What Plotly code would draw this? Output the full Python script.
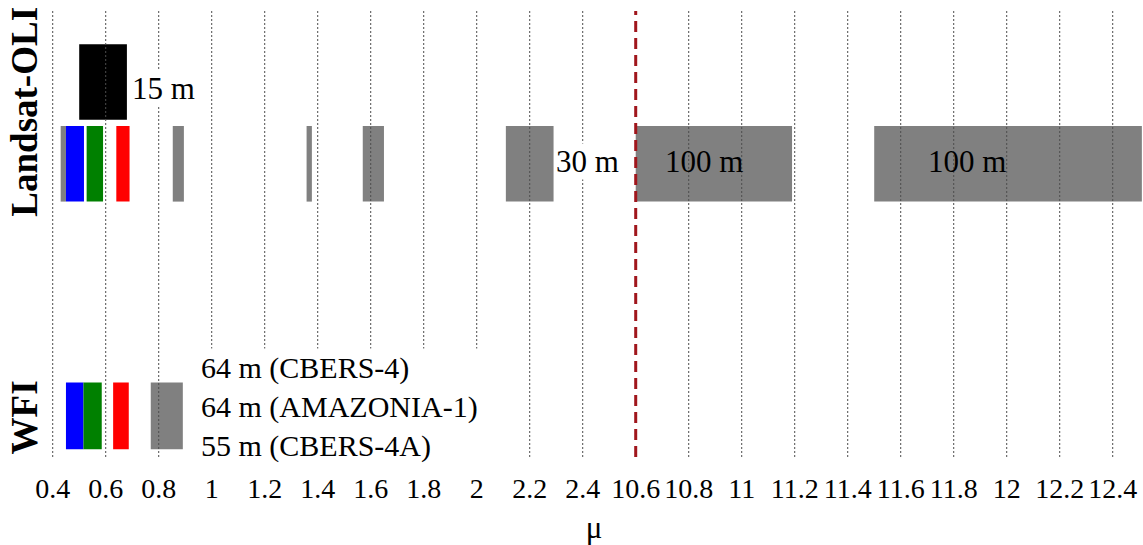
import plotly.graph_objects as go

# ---------------- data ----------------
# axis break: wavelengths >= 10.6 are drawn shifted left by this amount
BREAK_AT = 2.4
BREAK_SHIFT = 8.0

tick_values = [0.4, 0.6, 0.8, 1.0, 1.2, 1.4, 1.6, 1.8, 2.0, 2.2, 2.4,
               10.6, 10.8, 11.0, 11.2, 11.4, 11.6, 11.8, 12.0, 12.2, 12.4]
tick_labels = ["0.4", "0.6", "0.8", "1", "1.2", "1.4", "1.6", "1.8", "2", "2.2", "2.4",
               "10.6", "10.8", "11", "11.2", "11.4", "11.6", "11.8", "12", "12.2", "12.4"]

oli_start = [0.43, 0.45, 0.528, 0.64, 0.853, 1.358, 1.57, 2.11, 10.60, 11.50]
oli_end   = [0.45, 0.518, 0.59, 0.69, 0.895, 1.378, 1.65, 2.29, 11.19, 12.51]
oli_color = ["#808080", "#0000FF", "#008000", "#FF0000", "#808080",
             "#808080", "#808080", "#808080", "#808080", "#808080"]

pan_start = [0.50]
pan_end = [0.68]
pan_color = ["#000000"]

wfi_start = [0.45, 0.516, 0.628, 0.77]
wfi_end   = [0.516, 0.585, 0.687, 0.891]
wfi_color = ["#0000FF", "#008000", "#FF0000", "#808080"]

row_labels = ["WFI", "Landsat-OLI"]
row_label_y = [-0.028, 1.184]
row_y = {"WFI": 0.0, "OLI": 1.0, "PAN": 1.3245}
row_h = {"WFI": 0.265, "OLI": 0.30, "PAN": 0.30}

res_texts = ["15 m", "30 m", "100 m", "100 m"]
res_x = [0.695, 2.297, 10.707, 11.698]
res_y = [1.30, 1.01, 1.01, 1.01]
res_bg = ["white", "white", None, None]

wfi_texts = ["64 m (CBERS-4)", "64 m (AMAZONIA-1)", "55 m (CBERS-4A)"]
wfi_text_x = 0.95
wfi_text_y = 0.035


def m(x):
    return x if x <= BREAK_AT + 1e-9 else x - BREAK_SHIFT


FONT = "Liberation Serif, Times New Roman, serif"

fig = go.Figure()


def add_row(starts, ends, colors, key):
    fig.add_trace(go.Bar(
        orientation="h",
        y=[row_y[key]] * len(starts),
        base=[m(s) for s in starts],
        x=[m(e) - m(s) for s, e in zip(starts, ends)],
        width=[row_h[key]] * len(starts),
        marker=dict(color=colors, line=dict(width=0)),
        hoverinfo="skip",
        showlegend=False,
    ))


add_row(oli_start, oli_end, oli_color, "OLI")
add_row(pan_start, pan_end, pan_color, "PAN")
add_row(wfi_start, wfi_end, wfi_color, "WFI")

# dotted grid lines drawn above the bars (as in the reference)
for tv in tick_values:
    if abs(tv - 10.6) < 1e-9:
        continue
    fig.add_shape(type="line", xref="x", yref="paper", x0=m(tv), x1=m(tv), y0=0, y1=1,
                  line=dict(color="#4d4d4d", width=1, dash="2px,2px"), layer="above")

# red dashed break line
fig.add_shape(type="line", xref="x", yref="paper", x0=m(10.6), x1=m(10.6), y0=0, y1=1,
              line=dict(color="#A0161C", width=3, dash="11px,6px"), layer="above")

for t, x, y, bg in zip(res_texts, res_x, res_y, res_bg):
    fig.add_annotation(text=t, x=m(x), y=y, xref="x", yref="y", xanchor="left", yanchor="middle",
                       showarrow=False, font=dict(family=FONT, size=31, color="black"),
                       bgcolor=bg, borderpad=0)

fig.add_annotation(text="<br>".join(wfi_texts), x=m(wfi_text_x), y=wfi_text_y,
                   xref="x", yref="y", xanchor="left", yanchor="middle", align="left",
                   showarrow=False, font=dict(family=FONT, size=30, color="black"),
                   bgcolor="white", borderpad=2)

fig.update_layout(
    width=1143, height=545,
    margin=dict(l=45, r=0, t=11, b=88),
    plot_bgcolor="white", paper_bgcolor="white",
    barmode="overlay",
    font=dict(family=FONT, color="black"),
    xaxis=dict(
        range=[0.3709, 4.5143],
        tickmode="array",
        tickvals=[m(v) for v in tick_values],
        ticktext=tick_labels,
        tickfont=dict(family=FONT, size=28, color="black"),
        ticklabelstandoff=12,
        showgrid=False, zeroline=False, showline=False, ticks="",
        title=dict(text="μ", font=dict(family=FONT, size=31, color="black"), standoff=13),
        fixedrange=True,
    ),
    yaxis=dict(
        range=[-0.163, 1.606],
        tickmode="array",
        tickvals=row_label_y,
        ticktext=row_labels,
        tickangle=-90,
        tickfont=dict(family=FONT, size=37, color="black", weight="bold"),
        showgrid=False, zeroline=False, showline=False, ticks="",
        fixedrange=True,
    ),
)

fig.write_html("out.html")
